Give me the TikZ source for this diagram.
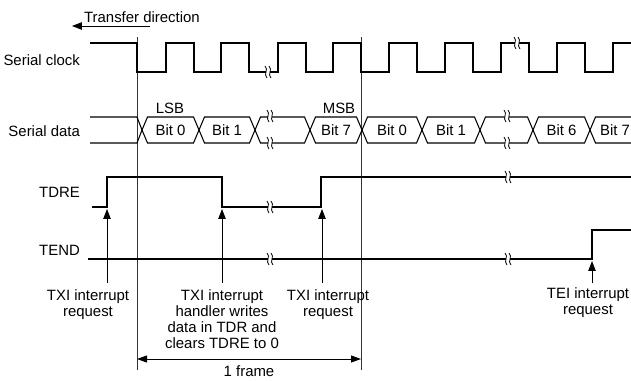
\documentclass[tikz,border=0pt]{standalone}
\usepackage{fontspec}
\setmainfont{Liberation Sans}
\usetikzlibrary{arrows.meta}

\begin{document}
\begin{tikzpicture}[
        x=0.02cm, y=-0.02cm,
        wave/.style={line width=0.6pt},
        guide/.style={line width=0.5pt, black!80},
        lbl/.style={font=\fontsize{8.5}{9.1}\selectfont, inner sep=1pt},
        sname/.style={lbl, anchor=east},
        note/.style={lbl, align=center, anchor=north},
        req/.style={line width=0.5pt, -{Triangle[length=0.2cm, width=0.15cm]}},
        dim/.style={line width=0.5pt, {Triangle[length=0.2cm, width=0.14cm]}-{Triangle[length=0.2cm, width=0.14cm]}},
        brk/.pic={
            \fill[white] (-2.2,-5) rectangle (2.2,5);
            \draw[line width=0.45pt] (-3,-6) .. controls (1,-2) and (-5,2) .. (-1,6);
            \draw[line width=0.45pt] (1,-6) .. controls (5,-2) and (-1,2) .. (3,6);
        }
    ]
    \useasboundingbox (0,0) rectangle (631,381);

    % Direction
    \node[lbl, anchor=west] (tdir) at (82,17) {Transfer direction};
    \coordinate (dirA) at (150,26);
    \coordinate (dirB) at (72,26);
    \draw[req] (dirA) -- (dirB);

    % Signal names
    \node[sname] (sclk) at (82,60) {Serial clock};
    \node[sname] (sdat) at (82,131) {Serial data};
    \node[sname] (tdre) at (82,192) {TDRE};
    \node[sname] (tend) at (82,250) {TEND};

    % Frame boundaries
    \draw[guide] (137,37) -- (137,370);
    \draw[guide] (361,37) -- (361,370);

    % Serial clock
    \draw[wave] (90,43) -- (137,43) -- (137,72)
        \foreach \r in {166,221,278,333,389,445,501,557} {
            -- (\r,72) -- (\r,43) -- (\r+28,43) -- (\r+28,72)
        }
        -- (613,72) -- (613,43) -- (631,43);
    \pic at (268,72) {brk};
    \pic at (517,43) {brk};

    % Serial data
    \draw[wave] (90,117) -- (137,117) -- (142,130) -- (137,143) -- (90,143);
    \foreach \a/\b/\t [count=\i] in {142/199/Bit 0, 199/255/Bit 1, 310/362/Bit 7,
            362/422/Bit 0, 422/480/Bit 1, 533/590/Bit 6} {
        \draw[wave] (\a,130) -- (\a+5.5,117) -- (\b-5.5,117) -- (\b,130)
            -- (\b-5.5,143) -- (\a+5.5,143) -- cycle;
        \node[lbl] (bit\i) at ({(\a+\b)/2},130) {\t};
    }
    \foreach \a/\b/\m in {255/310/270, 480/533/507} {
        \draw[wave] (\a,130) -- (\a+5.5,117) -- (\b-5.5,117) -- (\b,130)
            -- (\b-5.5,143) -- (\a+5.5,143) -- cycle;
        \pic at (\m,116) {brk};
        \pic at (\m,143) {brk};
    }
    \draw[wave] (631,117) -- (595.5,117) -- (590,130) -- (595.5,143) -- (631,143);
    \node[lbl] (bit7) at (615,130) {Bit 7};
    \node[lbl] (lsb) at (170,108) {LSB};
    \node[lbl] (msb) at (339,108) {MSB};

    % TDRE
    \draw[wave] (92,207) -- (107,207) -- (107,177) -- (222,177) -- (222,207)
        -- (321,207) -- (321,177) -- (631,177);
    \pic at (270,207) {brk};
    \pic at (508,177) {brk};

    % TEND
    \draw[wave] (88,259) -- (592,259) -- (592,230) -- (631,230);
    \pic at (270,259) {brk};
    \pic at (508,259) {brk};

    % Interrupt requests
    \coordinate (r1) at (107,209);
    \coordinate (r2) at (222,209);
    \coordinate (r3) at (322,209);
    \coordinate (r4) at (592,261);
    \node[note] (txi1) at (88,288) {TXI interrupt\\request};
    \node[note] (hndl) at (222,288) {TXI interrupt\\handler writes\\data in TDR and\\clears TDRE to 0};
    \node[note] (txi2) at (328,288) {TXI interrupt\\request};
    \node[note] (tei) at (588,286) {TEI interrupt\\request};
    \draw[req] ([yshift=0.1cm]txi1.north -| r1) -- (r1);
    \draw[req] ([yshift=0.1cm]hndl.north -| r2) -- (r2);
    \draw[req] ([yshift=0.1cm]txi2.north -| r3) -- (r3);
    \draw[req] ([yshift=0.06cm]tei.north -| r4) -- (r4);

    % One frame
    \coordinate (f1) at (137,359);
    \coordinate (f2) at (361,359);
    \draw[dim] (f1) -- (f2);
    \node[lbl] (frm) at (249,371) {1 frame};
\end{tikzpicture}
\end{document}
